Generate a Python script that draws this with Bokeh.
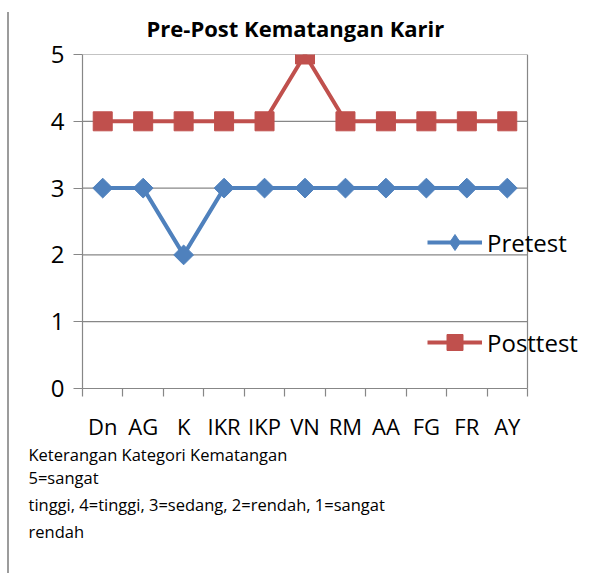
from bokeh.plotting import figure
from bokeh.models import (Range1d, FixedTicker, Legend, LegendItem, Title,
                          Span, InlineStyleSheet)
from bokeh.embed import file_html
from bokeh.resources import INLINE
import math

categories = ["Dn", "AG", "K", "IKR", "IKP", "VN", "RM", "AA", "FG", "FR", "AY"]
pretest = [3, 3, 2, 3, 3, 3, 3, 3, 3, 3, 3]
posttest = [4, 4, 4, 4, 4, 5, 4, 4, 4, 4, 4]
y_ticks = [0, 1, 2, 3, 4, 5]
title_text = "Pre-Post Kematangan Karir"
note_lines = ["Keterangan Kategori Kematangan",
              "5=sangat",
              "tinggi, 4=tinggi, 3=sedang, 2=rendah, 1=sangat",
              "rendah"]

FONT = "Open Sans"
GREY = "#878787"
BLUE = "#4F81BD"
RED = "#C0504D"

n = len(categories)
xs = [i + 0.5 for i in range(n)]
x_end = n * 508 / 445  # room on the right of the categories for the legend

p = figure(width=590, height=573, output_backend="svg", toolbar_location=None,
           x_range=Range1d(0, x_end), y_range=Range1d(0, 5),
           min_border_left=82, min_border_right=0, min_border_top=54,
           min_border_bottom=185)

p.title.text = title_text
p.title.align = "left"
p.title.vertical_align = "top"
p.title.offset = 64
p.title.standoff = 20
p.title.text_font = FONT
p.title.text_font_size = "22px"
p.title.text_font_style = "bold"
p.title.text_color = "black"

p.outline_line_color = None
p.background_fill_color = "white"
p.border_fill_color = "white"

# horizontal grid lines limited to the category area
p.xgrid.grid_line_color = None
p.ygrid.grid_line_color = None
p.segment(x0=[0] * len(y_ticks), y0=y_ticks, x1=[n] * len(y_ticks), y1=y_ticks,
          line_color=GREY, line_width=1.2)
p.add_layout(Span(location=n, dimension="height", line_color=GREY, line_width=1.2))

# y axis
p.yaxis.ticker = FixedTicker(ticks=y_ticks)
p.yaxis.axis_line_color = GREY
p.yaxis.axis_line_width = 1.2
p.yaxis.major_tick_line_color = GREY
p.yaxis.major_tick_line_width = 1.2
p.yaxis.major_tick_out = 9
p.yaxis.major_tick_in = 0
p.yaxis.minor_tick_line_color = None
p.yaxis.major_label_text_font = FONT
p.yaxis.major_label_text_font_size = "24px"
p.yaxis.major_label_text_color = "black"
p.yaxis.major_label_standoff = 9

# x axis: labels at category centres, tick marks at boundaries
p.xaxis.bounds = (0, n)
p.xaxis.ticker = FixedTicker(ticks=xs, minor_ticks=list(range(n + 1)))
p.xaxis.major_label_overrides = {x: c for x, c in zip(xs, categories)}
p.xaxis.axis_line_color = GREY
p.xaxis.axis_line_width = 1.2
p.xaxis.major_tick_line_color = None
p.xaxis.major_tick_out = 0
p.xaxis.major_tick_in = 0
p.xaxis.minor_tick_line_color = GREY
p.xaxis.minor_tick_line_width = 1.2
p.xaxis.minor_tick_out = 8
p.xaxis.minor_tick_in = 0
p.xaxis.major_label_text_font = FONT
p.xaxis.major_label_text_font_size = "22px"
p.xaxis.major_label_text_color = "black"
p.xaxis.major_label_standoff = 14

l1 = p.line(xs, pretest, line_color=BLUE, line_width=4)
m1 = p.scatter(xs, pretest, marker="square", size=14, angle=math.pi / 4,
               fill_color=BLUE, line_color=BLUE)
l2 = p.line(xs, posttest, line_color=RED, line_width=4)
m2 = p.scatter(xs, posttest, marker="square", size=19,
               fill_color=RED, line_color=RED)
# legend-only diamond (the rotated square is not rotated inside legends)
k1 = p.scatter(xs, pretest, marker="diamond", fill_color=BLUE,
               line_color=BLUE, visible=False)

legend = Legend(items=[LegendItem(label="Pretest", renderers=[l1, k1]),
                       LegendItem(label="Posttest", renderers=[l2, m2])],
                location=(345, 26), glyph_width=55, glyph_height=40,
                label_height=20, spacing=60, padding=0, margin=0,
                label_standoff=5, border_line_color=None,
                background_fill_alpha=0, label_text_font=FONT,
                label_text_font_size="24px", label_text_color="black")
p.add_layout(legend)

# explanatory note below the chart
for i, line in enumerate(note_lines):
    p.add_layout(Title(text=line, align="left", offset=-54,
                       standoff=-6 if i == 0 else 1.5,
                       text_font=FONT, text_font_size="16.5px",
                       text_font_style="normal", text_color="black"), "below")

# page border line on the left
p.stylesheets = [InlineStyleSheet(css=(
    ":host { position: relative; }"
    ":host::after { content: ''; position: absolute; left: 7px; top: 12px; "
    "width: 2px; bottom: 0; background: #9c9c9c; z-index: 5; "
    "pointer-events: none; }"))]

open("out.html", "w").write(file_html(p, INLINE))
